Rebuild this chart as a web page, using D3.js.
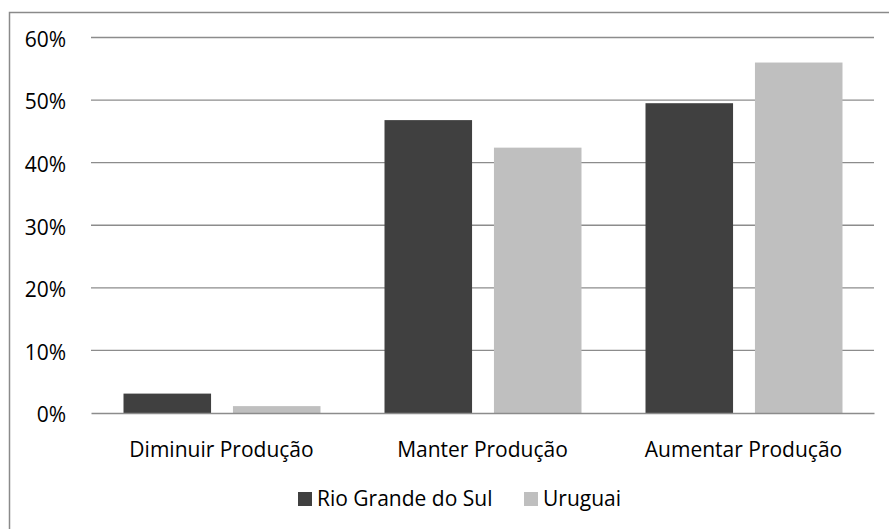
<!DOCTYPE html>
<html>
<head>
<meta charset="utf-8">
<script src="https://cdn.jsdelivr.net/npm/d3@7/dist/d3.min.js"></script>
<style>
  html, body { margin: 0; padding: 0; background: #fff; }
  svg { display: block; }
  text { font-family: "Open Sans", "Liberation Sans", sans-serif; fill: #000; }
</style>
</head>
<body>
<svg id="chart" width="889" height="529"></svg>
<script>
// Intenção de produção (percentual de respondentes)
const categories = ["Diminuir Produção", "Manter Produção", "Aumentar Produção"];
const seriesNames = ["Rio Grande do Sul", "Uruguai"];
const rioGrandeDoSul = [0.031, 0.468, 0.495];
const uruguai = [0.011, 0.424, 0.560];
const yTicks = [0, 0.1, 0.2, 0.3, 0.4, 0.5, 0.6];
const colors = ["#404040", "#bfbfbf"];

const seriesValues = [rioGrandeDoSul, uruguai];

const svg = d3.select("#chart");
const W = 889, H = 529;
const fontSize = "21px";

// frame around the chart area
svg.append("rect")
  .attr("x", 9.5).attr("y", 12.5)
  .attr("width", W + 20).attr("height", H + 20)
  .attr("fill", "none")
  .attr("stroke", "#8a8a8a")
  .attr("stroke-width", 1.5);

const plot = { left: 91, right: 874, top: 37.5, bottom: 413 };

const y = d3.scaleLinear()
  .domain([0, 0.6])
  .range([plot.bottom, plot.top]);

const x0 = d3.scaleBand()
  .domain(categories)
  .range([plot.left, plot.right])
  .padding(0);

const x1 = d3.scaleBand()
  .domain(seriesNames)
  .range([32.5, 229.5])
  .paddingInner(0.2)
  .paddingOuter(0);

// horizontal gridlines
svg.append("g")
  .selectAll("line")
  .data(yTicks.filter(d => d > 0))
  .join("line")
  .attr("x1", plot.left).attr("x2", plot.right)
  .attr("y1", d => y(d)).attr("y2", d => y(d))
  .attr("stroke", "#8c8c8c")
  .attr("stroke-width", 1.4);

// y-axis labels
const yAxis = d3.axisLeft(y)
  .tickValues(yTicks)
  .tickFormat(d3.format(".0%"))
  .tickSize(0)
  .tickPadding(25);

const gy = svg.append("g")
  .attr("transform", `translate(${plot.left},0)`)
  .call(yAxis);
gy.select(".domain").remove();
gy.selectAll("text")
  .attr("font-size", fontSize)
  .attr("font-family", "'Open Sans', 'Liberation Sans', sans-serif")
  .attr("fill", "#000")
  .attr("dy", "0.42em");

// bars
const groups = svg.append("g")
  .selectAll("g")
  .data(categories)
  .join("g")
  .attr("transform", d => `translate(${x0(d)},0)`);

groups.selectAll("rect")
  .data((d, i) => seriesNames.map((s, j) => ({ s, v: seriesValues[j][i], j })))
  .join("rect")
  .attr("x", d => x1(d.s))
  .attr("width", x1.bandwidth())
  .attr("y", d => y(d.v))
  .attr("height", d => y(0) - y(d.v))
  .attr("fill", d => colors[d.j]);

// category axis
const xAxis = d3.axisBottom(x0).tickSize(0).tickPadding(29);
const gx = svg.append("g")
  .attr("transform", `translate(0,${plot.bottom})`)
  .call(xAxis);
gx.select(".domain")
  .attr("stroke", "#8c8c8c")
  .attr("stroke-width", 1.4);
gx.selectAll("text")
  .attr("font-size", fontSize)
  .attr("font-family", "'Open Sans', 'Liberation Sans', sans-serif")
  .attr("fill", "#000");

// legend
const legend = svg.append("g");
const legendItems = [
  { name: seriesNames[0], color: colors[0], x: 298 },
  { name: seriesNames[1], color: colors[1], x: 524 }
];
const li = legend.selectAll("g")
  .data(legendItems)
  .join("g")
  .attr("transform", d => `translate(${d.x},492)`);
li.append("rect")
  .attr("width", 14).attr("height", 14)
  .attr("fill", d => d.color);
li.append("text")
  .attr("x", 19)
  .attr("y", 14)
  .attr("font-size", fontSize)
  .text(d => d.name);
</script>
</body>
</html>
